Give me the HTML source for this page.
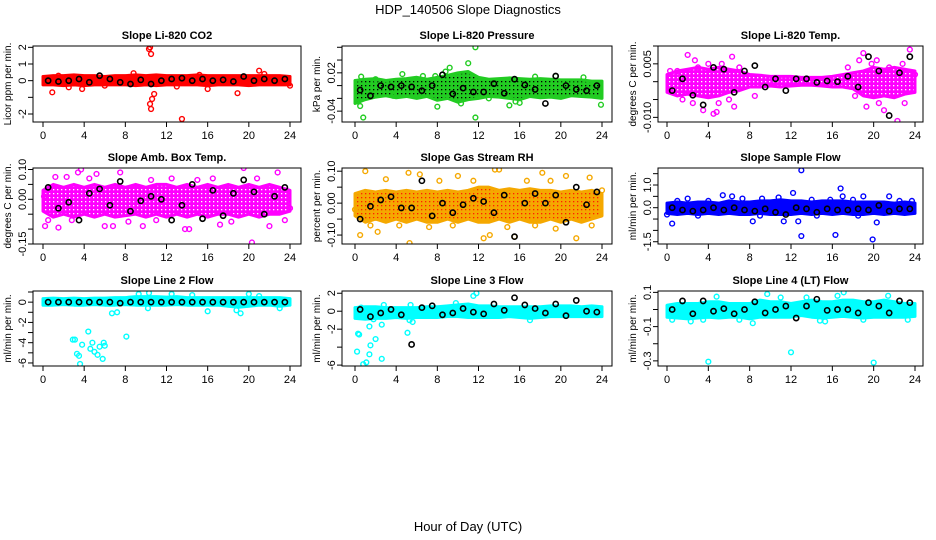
<!DOCTYPE html>
<html><head><meta charset="utf-8"><style>
body{margin:0;background:#fff;}
svg{display:block;font-family:"Liberation Sans",sans-serif;}
</style></head><body>
<svg id="c" width="936" height="540">
<defs id="defs"></defs>
<text x="468" y="14" text-anchor="middle" font-size="13">HDP_140506  Slope Diagnostics</text>
<text x="468" y="531" text-anchor="middle" font-size="13">Hour of Day (UTC)</text>
</svg>
<script>
const blackX=[0.5,1.5,2.5,3.5,4.5,5.5,6.5,7.5,8.5,9.5,10.5,11.5,12.5,13.5,14.5,15.5,16.5,17.5,18.5,19.5,20.5,21.5,22.5,23.5];
const xTicks=[0,4,8,12,16,20,24];
const titles=["Slope Li-820 CO2","Slope Li-820 Pressure","Slope Li-820 Temp.","Slope Amb. Box Temp.","Slope Gas Stream RH","Slope Sample Flow","Slope Line 2 Flow","Slope Line 3 Flow","Slope Line 4 (LT) Flow"];
const yTitles=["Licor ppm per min.","kPa per min.","degrees C per min.","degrees C per min.","percent per min.","ml/min per min.","ml/min per min.","ml/min per min.","ml/min per min."];
const colors=["#ff0000","#22cc22","#ff00ff","#ff00ff","#f5a800","#0000ff","#00ffff","#00ffff","#00ffff"];
const speckle=[null,"#000","#fff","#fff","#ff2000",null,null,null,null];
const yTickVals=[[-2,-1,0,1,2],[-0.04,-0.02,0,0.02,0.04,0.06],[-0.01,-0.005,0,0.005,0.01],[-0.15,-0.1,-0.05,0,0.05,0.1],[-0.1,-0.05,0,0.05,0.1],[-1.5,-1,-0.5,0,0.5,1,1.5],[-6,-5,-4,-3,-2,-1,0,1],[-6,-4,-2,0,2],[-0.3,-0.2,-0.1,0,0.1]];
const yTickLabels=[["-2","","0","1","2"],["-0.04","","","0.02","",""],["-0.010","","","0.005",""],["-0.15","","","0.00","","0.10"],["-0.10","","0.00","","0.10"],["-1.5","","","0.0","","1.0",""],["-6","","-4","","-2","","0",""],["-6","","-2","0","2"],["-0.3","","-0.1","","0.1"]];
const yDomains=[[-2.48,2.08],[-0.057,0.062],[-0.0113,0.01],[-0.15,0.105],[-0.128,0.11],[-1.6,1.75],[-6.3,1.1],[-6.1,2.25],[-0.33,0.108]];
const bandLo=[
[-0.25,-0.25,-0.3,-0.25,-0.3,-0.25,-0.25,-0.25,-0.25,-0.3,-0.25,-0.3,-0.25,-0.25,-0.25,-0.25,-0.3,-0.25,-0.25,-0.25,-0.3,-0.25,-0.25,-0.25,-0.25],
[-0.028,-0.022,-0.018,-0.016,-0.019,-0.017,-0.02,-0.017,-0.023,-0.02,-0.026,-0.022,-0.02,-0.017,-0.018,-0.02,-0.022,-0.017,-0.019,-0.018,-0.02,-0.016,-0.017,-0.018,-0.02],
[-0.003,-0.004,-0.0035,-0.004,-0.0045,-0.004,-0.003,-0.0025,-0.0015,-0.0015,-0.0012,-0.0015,-0.0012,-0.001,-0.001,-0.0012,-0.0015,-0.0015,-0.002,-0.004,-0.0045,-0.004,-0.0045,-0.0035,-0.003],
[-0.04,-0.06,-0.05,-0.06,-0.05,-0.06,-0.05,-0.06,-0.055,-0.05,-0.06,-0.05,-0.06,-0.05,-0.06,-0.05,-0.06,-0.05,-0.05,-0.06,-0.05,-0.06,-0.05,-0.05,-0.04],
[-0.04,-0.06,-0.05,-0.06,-0.05,-0.06,-0.05,-0.06,-0.06,-0.05,-0.06,-0.05,-0.06,-0.06,-0.05,-0.06,-0.05,-0.06,-0.06,-0.05,-0.06,-0.05,-0.06,-0.05,-0.04],
[-0.25,-0.3,-0.25,-0.3,-0.25,-0.3,-0.25,-0.3,-0.3,-0.25,-0.3,-0.3,-0.3,-0.25,-0.3,-0.25,-0.3,-0.25,-0.3,-0.3,-0.25,-0.3,-0.25,-0.3,-0.25],
[-0.3,-0.3,-0.25,-0.3,-0.3,-0.25,-0.3,-0.3,-0.25,-0.3,-0.3,-0.3,-0.3,-0.25,-0.3,-0.3,-0.3,-0.3,-0.4,-0.5,-0.4,-0.3,-0.3,-0.4,-0.3],
[-0.8,-0.9,-0.8,-0.8,-0.7,-0.8,-0.7,-0.7,-0.7,-0.6,-0.6,-0.7,-0.7,-0.7,-0.7,-0.6,-0.7,-0.8,-0.7,-0.6,-0.6,-0.6,-0.6,-0.6,-0.6],
[-0.045,-0.05,-0.055,-0.05,-0.045,-0.05,-0.045,-0.045,-0.055,-0.045,-0.045,-0.045,-0.045,-0.035,-0.045,-0.05,-0.045,-0.04,-0.045,-0.05,-0.045,-0.045,-0.045,-0.045,-0.04]];
const bandHi=[
[0.25,0.3,0.3,0.35,0.3,0.3,0.25,0.3,0.3,0.35,0.3,0.35,0.3,0.3,0.3,0.35,0.3,0.3,0.3,0.3,0.3,0.3,0.3,0.3,0.25],
[0.008,0.01,0.011,0.008,0.01,0.011,0.013,0.01,0.013,0.016,0.02,0.022,0.013,0.01,0.011,0.012,0.011,0.01,0.011,0.01,0.009,0.009,0.009,0.007,0.007],
[0.002,0.003,0.0035,0.004,0.0035,0.004,0.0035,0.003,0.002,0.0018,0.0015,0.0015,0.0015,0.0012,0.0012,0.0012,0.0015,0.002,0.0025,0.003,0.004,0.0035,0.004,0.0035,0.003],
[0.03,0.05,0.04,0.05,0.04,0.05,0.04,0.05,0.04,0.05,0.04,0.05,0.05,0.04,0.05,0.04,0.05,0.04,0.05,0.04,0.05,0.04,0.05,0.04,0.03],
[0.03,0.04,0.035,0.04,0.035,0.04,0.035,0.04,0.035,0.04,0.035,0.04,0.05,0.05,0.04,0.045,0.04,0.045,0.04,0.04,0.035,0.04,0.035,0.04,0.03],
[0.2,0.25,0.2,0.25,0.25,0.2,0.3,0.25,0.25,0.3,0.3,0.35,0.3,0.3,0.25,0.3,0.3,0.3,0.25,0.25,0.25,0.25,0.2,0.25,0.2],
[0.35,0.4,0.35,0.4,0.35,0.4,0.4,0.45,0.45,0.55,0.55,0.55,0.5,0.55,0.45,0.45,0.45,0.45,0.45,0.45,0.45,0.45,0.45,0.45,0.35],
[0.4,0.5,0.5,0.4,0.4,0.4,0.4,0.5,0.5,0.6,0.7,0.8,0.6,0.6,0.5,0.5,0.5,0.5,0.5,0.6,0.6,0.6,0.5,0.6,0.5],
[0.025,0.035,0.035,0.035,0.045,0.045,0.035,0.035,0.035,0.055,0.045,0.045,0.035,0.045,0.055,0.045,0.045,0.055,0.055,0.045,0.045,0.055,0.045,0.035,0.035]];
const outliers=[
[[0.9,-0.7],[10.3,1.9],[10.4,2.0],[10.5,1.6],[10.4,-1.4],[10.5,-1.7],[10.6,-1.1],[10.8,-0.8],[13.5,-2.3],[8.8,0.45],[21,0.6],[18.9,-0.75],[3.8,-0.5],[16,-0.5],[2.5,-0.4],[15.2,0.35],[21.5,0.4],[24,-0.3],[1.5,0.3],[6,-0.3],[13,-0.35]],
[[0.8,-0.05],[11.7,0.06],[11.7,-0.05],[11,0.035],[9.2,0.028],[8,-0.033],[23.9,-0.03],[15,-0.031],[0.3,-0.025],[0.5,-0.032],[4.6,0.018],[7.8,0.015],[15.6,-0.025],[16,-0.027],[19.5,0.015],[22.2,0.013],[10.3,-0.028],[8.8,0.022],[3.7,-0.016],[0.6,0.014],[2,0.01],[17.5,0.014],[6.6,0.015],[13,-0.02]],
[[2,0.0075],[2.7,0.006],[6.3,0.007],[3.5,-0.008],[4.5,-0.009],[4.8,-0.0085],[6.5,-0.007],[19,0.008],[20.3,0.006],[21,-0.008],[22.3,-0.011],[23.5,0.009],[22.8,0.005],[1.5,-0.005],[17.5,0.004],[18.6,0.006],[19.3,-0.007],[5.3,0.005],[1,0.003],[3,0.004],[4,0.005],[5,-0.006],[6,-0.005],[7,0.004],[2.5,-0.006],[19.8,0.005],[21.5,0.004],[23,-0.006],[20.5,-0.006],[18.2,-0.004],[24,0.002],[0.3,0.003],[8.5,-0.004]],
[[0.2,-0.09],[1.5,-0.095],[3.7,0.1],[3.4,0.09],[6,-0.09],[6.8,-0.09],[7.5,0.09],[13.8,-0.1],[14.2,-0.1],[17.2,-0.085],[19.5,0.105],[20.3,-0.145],[22,-0.09],[22.8,0.09],[9.7,-0.09],[1.2,0.075],[2.3,0.075],[5.2,0.085],[0.5,-0.07],[2.8,-0.07],[4.5,0.07],[8.3,-0.075],[10.5,0.065],[12.5,0.07],[15,0.065],[16.5,0.07],[18.3,-0.075],[20.8,0.07],[23.5,-0.07],[11,-0.07],[24,-0.03],[0.1,0.01]],
[[1,0.1],[0.5,-0.1],[5.2,0.095],[5.3,-0.125],[13.6,0.105],[14,0.105],[15.5,-0.105],[18.2,0.095],[21.5,-0.11],[12.5,-0.11],[19.5,-0.08],[2.2,-0.09],[6.3,0.09],[10,0.085],[20.5,0.085],[22.8,0.08],[13.1,-0.1],[1.5,-0.07],[3,0.075],[4.3,-0.07],[7.2,-0.075],[8.2,0.07],[9.5,-0.07],[11.5,0.07],[14.8,-0.075],[16.7,0.07],[17.5,-0.07],[19,0.07],[23,-0.07],[24,0.04],[0,-0.02]],
[[0.5,-0.7],[13,1.65],[13,-1.25],[16.3,-1.2],[16.8,0.85],[19.9,-1.4],[12.2,0.65],[12.7,-0.6],[20.3,-0.65],[8.3,-0.6],[11.3,-0.6],[21.5,0.5],[5.4,0.55],[6.3,0.5],[2,0.4],[17,0.5],[19,0.5],[0,-0.3],[1,0.3],[4,0.3],[7.3,0.4],[9.2,0.4],[10.8,0.45],[14,0.35],[15.8,0.35],[18,0.35],[22.5,0.3],[3,-0.35],[9,-0.35],[14.5,-0.35],[18.5,-0.35],[23.7,0.3]],
[[2.9,-3.7],[3.1,-3.7],[3.3,-5.1],[3.5,-5.3],[3.6,-6.1],[3.8,-4.2],[4.4,-2.9],[4.6,-4.6],[4.8,-4.0],[5,-4.9],[5.3,-5.2],[5.5,-4.4],[5.8,-5.6],[5.9,-4.0],[6,-4.3],[6.7,-1.1],[7.2,-1.0],[8.1,-3.4],[16,-0.9],[18.8,-0.8],[19.2,-1.1],[10.2,-0.6],[10.3,0.9],[20,0.8],[23,-0.6],[9.3,0.8],[14.5,0.7],[12.5,0.8],[21,0.6]],
[[0.3,-2.5],[0.4,-2.6],[0.2,-4.5],[0.8,-5.9],[1.1,-5.7],[1.4,-4.8],[1.5,-3.8],[1.4,-1.7],[2.0,-3.1],[2.6,-1.5],[2.6,-5.3],[5.1,-2.4],[5.3,-1.0],[5.6,-1.2],[11.5,1.7],[11.8,2.0],[2.8,0.7],[5.4,0.7],[17,-1.0],[9.8,0.9],[0.2,-0.5],[1.8,-0.9],[0.6,0.4]],
[[4,-0.305],[12,-0.25],[20,-0.31],[8.3,-0.08],[17.1,0.1],[9.7,0.09],[2.3,-0.07],[4.8,0.075],[14.8,-0.065],[15.3,-0.07],[21.4,0.08],[0.5,-0.06],[3.5,-0.06],[7,-0.06],[13.5,0.07],[19,-0.06],[23.3,-0.06],[16.5,0.08],[11,0.07]]];
const blackY=[
[0.0,-0.05,0.0,0.1,-0.1,0.3,0.1,-0.1,-0.2,0.05,-0.2,0.0,0.1,0.15,0.0,0.1,0.0,0.05,-0.05,0.25,0.0,0.1,0.0,0.1],
[-0.007,-0.016,0.0,-0.002,0.0,-0.002,-0.008,0.0,0.017,-0.013,-0.004,-0.01,-0.01,0.003,-0.012,0.01,0.001,-0.006,-0.028,0.015,0.0,-0.006,-0.008,0.0],
[-0.0025,0.0008,-0.0038,-0.0065,0.004,0.0035,-0.003,0.003,0.0045,-0.0015,0.0008,-0.0025,0.0008,0.0008,-0.0002,0.0002,0.0,0.0015,-0.0015,0.007,0.003,-0.0095,0.0025,0.007],
[0.04,-0.03,-0.01,-0.07,0.02,0.035,-0.02,0.06,-0.04,-0.005,0.01,0.0,-0.07,-0.02,0.05,-0.065,0.03,-0.055,0.02,0.065,0.025,-0.05,0.01,0.04],
[-0.05,-0.01,0.01,0.02,-0.015,-0.015,0.07,-0.04,0.0,-0.03,-0.005,0.015,0.005,-0.03,0.025,-0.105,0.0,0.03,0.0,0.025,-0.06,0.05,-0.005,0.035],
[0.0,-0.1,-0.15,-0.1,0.0,-0.1,0.0,-0.1,-0.15,-0.05,-0.2,-0.3,0.0,-0.05,-0.2,-0.05,-0.1,-0.1,-0.05,-0.1,0.1,-0.15,-0.05,-0.05],
[0.0,0.0,0.0,0.0,0.0,0.0,0.0,-0.1,0.0,0.0,0.0,0.0,0.0,0.0,0.0,0.0,0.0,0.0,0.0,0.0,0.0,0.0,0.0,0.0],
[0.2,-0.6,-0.2,0.2,-0.4,-3.7,0.4,0.6,-0.4,-0.2,0.3,-0.1,-0.3,0.8,0.1,1.5,0.7,0.3,-0.2,0.8,-0.5,1.2,0.0,-0.1],
[0.0,0.05,-0.025,0.05,-0.01,0.005,-0.025,0.0,0.045,-0.02,0.0,0.02,-0.05,0.02,0.06,-0.005,0.0,0.0,-0.02,0.04,0.02,-0.02,0.05,0.04]];

const NS="http://www.w3.org/2000/svg";
const svg=document.getElementById('c');
const defs=document.getElementById('defs');
const colX=[[33,301,43,290],[342,612,355,602],[658,923,667,915]];
const rowY=[[46,122,39],[168,244,161],[291,366,284]];
function mk(tag,attrs,parent){const e=document.createElementNS(NS,tag);for(const k in attrs)e.setAttribute(k,attrs[k]);(parent||svg).appendChild(e);return e;}
for(let p=0;p<9;p++){
  let fill=colors[p];
  if(speckle[p]){
    const pat=mk('pattern',{id:'pat'+p,width:4,height:4,patternUnits:'userSpaceOnUse'},defs);
    mk('rect',{x:0,y:0,width:4,height:4,fill:colors[p]},pat);
    mk('rect',{x:1,y:1,width:1.3,height:1.3,fill:speckle[p]},pat);
    fill='url(#pat'+p+')';
  }
  const c=colX[p%3], r=rowY[Math.floor(p/3)];
  const [bl,br,x0,x24]=c,[bt,bb,ty]=r;
  const [ymin,ymax]=yDomains[p];
  const sx=v=>x0+(x24-x0)*v/24;
  const sy=v=>bb-(bb-bt)*(v-ymin)/(ymax-ymin);
  const g=mk('g',{});
  
  
  const t=mk('text',{x:(bl+br)/2,y:ty,'text-anchor':'middle','font-size':'11','font-weight':'bold'},g);
  t.textContent=titles[p];
  
  
  const cp='clip'+p;
  const cl=mk('clipPath',{id:cp},g);mk('rect',{x:bl,y:bt,width:br-bl,height:bb-bt},cl);
  const data=mk('g',{'clip-path':'url(#'+cp+')'},g);
  let pts=[];
  for(let h=0;h<=24;h++)pts.push(sx(h)+','+sy(bandHi[p][h]));
  for(let h=24;h>=0;h--)pts.push(sx(h)+','+sy(bandLo[p][h]));
  const band=mk('polygon',{points:pts.join(' '),fill:fill,stroke:colors[p],'stroke-width':'3','stroke-linejoin':'round'},data);
  
  
  for(const [h,v] of outliers[p]){
    const o=mk('circle',{cx:sx(h),cy:sy(v),r:2.4,fill:'none',stroke:colors[p],'stroke-width':'1.4'},data);
    
    
  }
  blackX.forEach((h,i)=>{
    const o=mk('circle',{cx:sx(h),cy:sy(blackY[p][i]),r:2.6,fill:'none',stroke:'#000','stroke-width':'1.6'},data);
    
    
  });
  const box=mk('rect',{x:bl,y:bt,width:br-bl,height:bb-bt,fill:'none',stroke:'#000','stroke-width':'1'},g);
  
  
  xTicks.forEach(v=>{
    mk('line',{x1:sx(v),x2:sx(v),y1:bb,y2:bb+5,stroke:'#000'},g);
    const l=mk('text',{x:sx(v),y:bb+17,'text-anchor':'middle','font-size':'11'},g);
    l.textContent=v;
    
    
  });
  yTickVals[p].forEach((v,i)=>{
    const y=sy(v);
    mk('line',{x1:bl-5,x2:bl,y1:y,y2:y,stroke:'#000'},g);
    if(yTickLabels[p][i]){
      const l=mk('text',{x:bl-7,y:y,'text-anchor':'middle','font-size':'11',transform:'rotate(-90 '+(bl-7)+' '+y+')'},g);
      l.textContent=yTickLabels[p][i];
      
      
    }
  });
  const ym=(bt+bb)/2;
  const yl=mk('text',{x:bl-22,y:ym,'text-anchor':'middle','font-size':'10',transform:'rotate(-90 '+(bl-22)+' '+ym+')'},g);
  yl.textContent=yTitles[p];
  
  
}
</script>
</body></html>
